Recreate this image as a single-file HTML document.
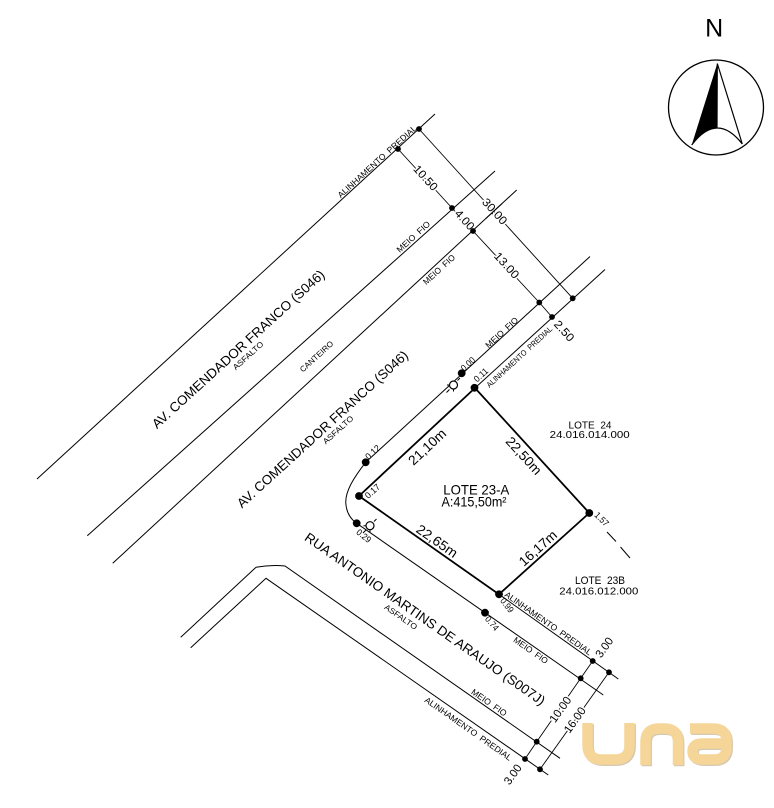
<!DOCTYPE html>
<html><head><meta charset="utf-8">
<style>
html,body{margin:0;padding:0;background:#fff;}
svg{display:block;}
text{font-family:"Liberation Sans",Arial,sans-serif;fill:#000;white-space:pre;}
.d{paint-order:stroke;stroke:#fff;stroke-width:3px;stroke-linejoin:round;}
</style></head>
<body>
<svg width="774" height="808" viewBox="0 0 774 808" xmlns="http://www.w3.org/2000/svg" xml:space="preserve">
<rect width="774" height="808" fill="#fff"/>

<!-- North arrow -->
<text x="714.2" y="36.7" font-size="25" text-anchor="middle">N</text>
<circle cx="716" cy="107.5" r="47.5" fill="none" stroke="#000" stroke-width="1.3"/>
<path d="M717.3,63.5 L691.7,145 Q704.35,128.25 717,128 Z" fill="#000"/>
<path d="M717.3,63.5 L742.3,144 M717.3,63.5 L717,128 M691.7,145 Q717,111.5 742.3,144" fill="none" stroke="#000" stroke-width="1.2"/>

<!-- dimension lines -->
<g stroke="#000" stroke-width="0.9" fill="none">
<path d="M398,149 L452,208 L473,231 L539.3,302.5 L552,317"/>
<path d="M419,129 L572.7,298.3"/>
<path d="M592.7,661 L580.7,678.3 L536.7,741.7 L525,759"/>
<path d="M609,672.3 L540,769.3"/>
</g>

<!-- dimension texts (with gap halo) -->
<g font-size="11.5" text-anchor="middle" dominant-baseline="central">
<text class="d" x="425" y="178.5" transform="rotate(47.7 425 178.5)" textLength="30" lengthAdjust="spacingAndGlyphs">10.50</text>
<text class="d" x="494" y="212" transform="rotate(47.7 494 212)" textLength="31" lengthAdjust="spacingAndGlyphs">30.00</text>
<text class="d" x="464" y="220.5" transform="rotate(47.7 464 220.5)" textLength="23" lengthAdjust="spacingAndGlyphs">4.00</text>
<text class="d" x="506" y="266" transform="rotate(47.7 506 266)" textLength="31" lengthAdjust="spacingAndGlyphs">13.00</text>
<text class="d" x="563.5" y="331.5" transform="rotate(47.7 563.5 331.5)" textLength="24" lengthAdjust="spacingAndGlyphs">2.50</text>
<text class="d" x="605" y="648" transform="rotate(-54.3 605 648)" textLength="22" lengthAdjust="spacingAndGlyphs">3.00</text>
<text class="d" x="561" y="710" transform="rotate(-54.3 561 710)" textLength="29" lengthAdjust="spacingAndGlyphs">10.00</text>
<text class="d" x="575.5" y="720.5" transform="rotate(-54.3 575.5 720.5)" textLength="29" lengthAdjust="spacingAndGlyphs">16.00</text>
<text class="d" x="513.5" y="775" transform="rotate(-54.3 513.5 775)" textLength="22" lengthAdjust="spacingAndGlyphs">3.00</text>
</g>

<!-- street lines -->
<g stroke="#000" stroke-width="1" fill="none">
<path d="M37,479 L435,114"/>
<path d="M87.3,535.7 L495,171"/>
<path d="M112.7,563.3 L516.7,190"/>
<path d="M590,256.5 L365.7,462.3 C355,476 344,492 346,505 C347,514 352,520 356.7,523.3 L603.3,695"/>
<path d="M605,269.5 L475,388"/>
<path d="M499,594.3 L618.3,679"/>
<path d="M180.7,637.3 L256,567.3 Q270.5,564.5 285,566 L560,758.3"/>
<path d="M190.7,647.7 L266,578.3 L548.3,775"/>
<path d="M607,532 L616,541.5 M620.5,547 L630,558"/>
</g>

<!-- lot -->
<path d="M475,388 L359,496 L499,594.3 L589.3,513 Z" fill="none" stroke="#000" stroke-width="1.8" stroke-linejoin="miter"/>

<!-- dim dots -->
<g fill="#000">
<circle cx="419" cy="129" r="2.9"/>
<circle cx="398" cy="149" r="2.9"/>
<circle cx="452" cy="208" r="2.9"/>
<circle cx="473" cy="231" r="2.9"/>
<circle cx="539.3" cy="302.5" r="2.9"/>
<circle cx="552" cy="317" r="2.9"/>
<circle cx="572.7" cy="298.3" r="2.9"/>
<circle cx="592.7" cy="661" r="2.9"/>
<circle cx="580.7" cy="678.3" r="2.9"/>
<circle cx="609" cy="672.3" r="2.9"/>
<circle cx="536.7" cy="741.7" r="2.9"/>
<circle cx="525" cy="759" r="2.9"/>
<circle cx="540" cy="769.3" r="2.9"/>
</g>

<!-- survey dots -->
<g fill="#000">
<circle cx="461.7" cy="373.3" r="3.9"/>
<circle cx="474.5" cy="387.8" r="3.9"/>
<circle cx="365.7" cy="462.3" r="3.9"/>
<circle cx="359" cy="496" r="3.9"/>
<circle cx="356.7" cy="523.3" r="3.9"/>
<circle cx="499" cy="594.3" r="3.9"/>
<circle cx="485" cy="612.7" r="3.9"/>
<circle cx="589.3" cy="513" r="3.9"/>
</g>

<!-- ring symbols -->
<g fill="#fff" stroke="#000" stroke-width="1.2">
<circle cx="453.5" cy="385" r="4"/>
<circle cx="370" cy="525.7" r="4"/>
</g>
<g stroke="#000" stroke-width="1">
<path d="M449.5,389.5 L446.5,392.5 M457.5,380.5 L460,378 M453.5,389 V391.5 M449,385 H447"/>
<path d="M366,530 L363,533 M374,521.5 L376.5,519 M370,529.7 V532.2 M365.5,525.7 H363.5"/>
</g>

<!-- labels -->
<g text-anchor="middle" dominant-baseline="central">
<text x="377" y="161.5" font-size="8.5" transform="rotate(-42.3 377 161.5)" textLength="103" lengthAdjust="spacingAndGlyphs">ALINHAMENTO  PREDIAL</text>
<text x="413.3" y="236.7" font-size="8.5" transform="rotate(-42.3 413.3 236.7)" textLength="42" lengthAdjust="spacingAndGlyphs">MEIO  FIO</text>
<text x="439" y="269.5" font-size="8.5" transform="rotate(-42.5 439 269.5)" textLength="40" lengthAdjust="spacingAndGlyphs">MEIO  FIO</text>
<text x="238.3" y="349.2" font-size="13.3" transform="rotate(-42.3 238.3 349.2)" textLength="228" lengthAdjust="spacingAndGlyphs">AV. COMENDADOR FRANCO (S046)</text>
<text x="248.3" y="355.8" font-size="8" transform="rotate(-42.3 248.3 355.8)" textLength="38" lengthAdjust="spacingAndGlyphs">ASFALTO</text>
<text x="316.7" y="356.7" font-size="8" transform="rotate(-42.3 316.7 356.7)" textLength="42" lengthAdjust="spacingAndGlyphs">CANTEIRO</text>
<text x="322.5" y="429.2" font-size="13.3" transform="rotate(-42.3 322.5 429.2)" textLength="226" lengthAdjust="spacingAndGlyphs">AV. COMENDADOR FRANCO (S046)</text>
<text x="338.3" y="430" font-size="8" transform="rotate(-42.3 338.3 430)" textLength="38" lengthAdjust="spacingAndGlyphs">ASFALTO</text>
<text x="501.7" y="332.5" font-size="8.5" transform="rotate(-42.6 501.7 332.5)" textLength="41" lengthAdjust="spacingAndGlyphs">MEIO  FIO</text>
<text x="519.5" y="357" font-size="8" transform="rotate(-42.6 519.5 357)" textLength="86" lengthAdjust="spacingAndGlyphs">ALINHAMENTO  PREDIAL</text>

<text x="468" y="364" font-size="9" transform="rotate(-42.6 468 364)" textLength="16" lengthAdjust="spacingAndGlyphs">0.00</text>
<text x="481" y="375" font-size="9" transform="rotate(-42.6 481 375)" textLength="16" lengthAdjust="spacingAndGlyphs">0.11</text>
<text x="372.8" y="452.2" font-size="9" transform="rotate(-42.6 372.8 452.2)" textLength="17" lengthAdjust="spacingAndGlyphs">0.12</text>
<text x="372.5" y="491.2" font-size="9" transform="rotate(-42.6 372.5 491.2)" textLength="17" lengthAdjust="spacingAndGlyphs">0.17</text>
<text x="363.8" y="536" font-size="9" transform="rotate(38 363.8 536)" textLength="16" lengthAdjust="spacingAndGlyphs">0.29</text>
<text x="507" y="605.3" font-size="9" transform="rotate(52 507 605.3)" textLength="16" lengthAdjust="spacingAndGlyphs">0.99</text>
<text x="492" y="623.5" font-size="9" transform="rotate(50 492 623.5)" textLength="16" lengthAdjust="spacingAndGlyphs">0.74</text>
<text x="601.7" y="519.2" font-size="9" transform="rotate(45 601.7 519.2)" textLength="16" lengthAdjust="spacingAndGlyphs">1.57</text>

<text x="590" y="425.3" font-size="10.5" textLength="43" lengthAdjust="spacingAndGlyphs">LOTE  24</text>
<text x="589.7" y="435.5" font-size="10.2" textLength="80" lengthAdjust="spacingAndGlyphs">24.016.014.000</text>
<text x="476.3" y="490" font-size="13.8" textLength="66" lengthAdjust="spacingAndGlyphs">LOTE 23-A</text>
<text x="474" y="502" font-size="13.8" textLength="65" lengthAdjust="spacingAndGlyphs">A:415,50m²</text>
<text x="600" y="580.8" font-size="10.8" textLength="50" lengthAdjust="spacingAndGlyphs">LOTE  23B</text>
<text x="598.8" y="592" font-size="10.2" textLength="79" lengthAdjust="spacingAndGlyphs">24.016.012.000</text>

<text x="427.3" y="447" font-size="13.5" transform="rotate(-43 427.3 447)" textLength="46" lengthAdjust="spacingAndGlyphs">21,10m</text>
<text x="523.7" y="455.8" font-size="13.5" transform="rotate(47.6 523.7 455.8)" textLength="46" lengthAdjust="spacingAndGlyphs">22,50m</text>
<text x="437" y="541.2" font-size="13.5" transform="rotate(35 437 541.2)" textLength="47" lengthAdjust="spacingAndGlyphs">22,65m</text>
<text x="538" y="548.3" font-size="13.5" transform="rotate(-42 538 548.3)" textLength="46" lengthAdjust="spacingAndGlyphs">16,17m</text>

<text x="425" y="619" font-size="13.3" transform="rotate(35 425 619)" textLength="290" lengthAdjust="spacingAndGlyphs">RUA ANTONIO MARTINS DE ARAUJO (S007J)</text>
<text x="400.8" y="617.2" font-size="8" transform="rotate(35 400.8 617.2)" textLength="38" lengthAdjust="spacingAndGlyphs">ASFALTO</text>
<text x="530.8" y="650.3" font-size="8.5" transform="rotate(35 530.8 650.3)" textLength="40" lengthAdjust="spacingAndGlyphs">MEIO  FIO</text>
<text x="548.3" y="623.3" font-size="8.5" transform="rotate(35 548.3 623.3)" textLength="104" lengthAdjust="spacingAndGlyphs">ALINHAMENTO  PREDIAL</text>
<text x="489.2" y="702.5" font-size="8.5" transform="rotate(35 489.2 702.5)" textLength="41" lengthAdjust="spacingAndGlyphs">MEIO  FIO</text>
<text x="468.3" y="728.7" font-size="8.5" transform="rotate(35 468.3 728.7)" textLength="104" lengthAdjust="spacingAndGlyphs">ALINHAMENTO  PREDIAL</text>
</g>

<!-- redraw line C through 30.00 -->
<path d="M486,218.4 L502,203.6" stroke="#000" stroke-width="1"/>

<!-- logo -->
<g fill="none" stroke-width="10.5" stroke-linecap="butt" stroke-linejoin="round">
<title>una</title>
<g stroke="#d6c9b2" transform="translate(1.2,1.2)">
<path d="M587.5,723 V745 Q587.5,759.5 602,759.5 H615 Q629.5,759.5 629.5,745 V723"/>
<path d="M645.5,765 V742 Q645.5,728.5 659,728.5 H664.5 Q678,728.5 678,742 V765"/>
<path d="M690,728.5 H713 Q726.5,728.5 726.5,741 V747 Q726.5,759.5 714,759.5 H703 Q692.5,759.5 692.5,751.5 Q692.5,743.5 702,743.5 H726.5"/>
</g>
<g stroke="#f6d698">
<path d="M587.5,723 V745 Q587.5,759.5 602,759.5 H615 Q629.5,759.5 629.5,745 V723"/>
<path d="M645.5,765 V742 Q645.5,728.5 659,728.5 H664.5 Q678,728.5 678,742 V765"/>
<path d="M690,728.5 H713 Q726.5,728.5 726.5,741 V747 Q726.5,759.5 714,759.5 H703 Q692.5,759.5 692.5,751.5 Q692.5,743.5 702,743.5 H726.5"/>
</g>
</g>
</svg>
</body></html>
